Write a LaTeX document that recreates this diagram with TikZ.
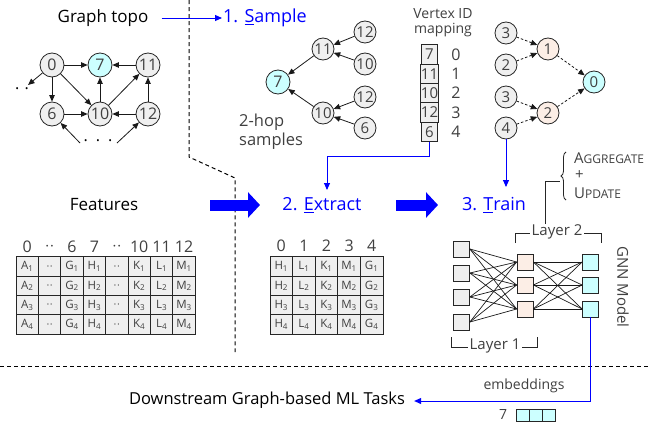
\documentclass[tikz,border=0pt]{standalone}
\usepackage{fontspec}
\setmainfont{Open Sans}
\usetikzlibrary{arrows.meta,decorations.pathreplacing,calc}
\definecolor{gfill}{HTML}{EFEFEF}
\definecolor{cfill}{HTML}{CCFFFF}
\definecolor{pfill}{HTML}{FCEEE6}
\definecolor{pblue}{HTML}{0000FF}
\definecolor{tgray}{HTML}{404040}
\newcommand{\fs}[1]{\fontsize{#1}{#1}\selectfont}
\begin{document}
\begin{tikzpicture}[x=1pt,y=-1pt,
  vtx/.style={circle,draw=black!85,line width=0.8pt,fill=gfill,minimum size=24pt,inner sep=0pt,font=\fs{16},text=tgray},
  svtx/.style={vtx,minimum size=22pt,font=\fs{15}},
  edge/.style={-{Triangle[length=6.5pt,width=5.5pt]},line width=0.8pt,black!90},
  dedge/.style={edge,dash pattern=on 2.5pt off 2pt},
  sep/.style={black,line width=1pt,dash pattern=on 4pt off 3pt},
  barrow/.style={pblue,line width=0.9pt,-{Triangle[length=7pt,width=6pt]}},
  bigarrow/.style={pblue,line width=11pt,-{Triangle[length=12pt,width=25pt]}},
  lbl/.style={font=\fs{17},inner sep=1pt},
  stepl/.style={font=\fs{18},text=pblue,inner sep=1pt},
  cell/.style={draw=black!85,line width=1pt,fill=gfill,minimum height=19.3pt,inner sep=0pt,font=\fs{11.5},text=tgray},
  hdr/.style={font=\fs{16},text=tgray,inner sep=0pt},
  sq/.style={draw=black!85,line width=0.8pt,minimum size=16pt,inner sep=0pt},
  nn/.style={line width=0.7pt,black!90}
]
\useasboundingbox (0,0) rectangle (648,423);

% separators
\draw[sep] (189,0) -- (189,157) -- (235,178) -- (235,352);
\draw[sep] (0,366) -- (648,366);

% Graph topo
\node[lbl] (gt) at (103,18) {Graph topo};
\node[stepl,anchor=west] (smp) at (222,18) {1. \underline{S}ample};
\draw[barrow] ($(gt.east)+(12,0)$) -- (smp.west);

\node[vtx] (g0) at (52,65) {0};
\node[vtx,fill=cfill] (g7) at (100,65) {7};
\node[vtx] (g11) at (148,65) {11};
\node[vtx] (g6) at (52,114) {6};
\node[vtx] (g10) at (100,114) {10};
\node[vtx] (g12) at (148,114) {12};
\node[font=\fs{16},inner sep=0pt] (gdl) at (22,89) {.\,\,.};
\node[font=\fs{16},inner sep=0pt] (gdb) at (98,141) {.\,\,\,.\,\,\,.};
\coordinate (gdla) at (28,85);
\coordinate (gdb1) at (80,143);
\coordinate (gdb2) at (117,143);
\draw[edge] (g0) -- (g7);
\draw[edge] (g11) -- (g7);
\draw[edge] (g0) -- (g6);
\draw[edge] (g0) -- (g10);
\draw[edge] (g10) -- (g7);
\draw[edge] (g10) -- (g11);
\draw[edge] (g6) -- (g10);
\draw[edge] (g12) -- (g10);
\draw[edge] (g12) -- (g11);
\draw[edge] (g0) -- (gdla);
\draw[edge] (gdb1) -- (g6);
\draw[edge] (gdb2) -- (g12);

% Sample tree
\node[vtx,fill=cfill] (s7) at (278,82) {7};
\node[svtx] (s11) at (323,49) {11};
\node[svtx] (s10) at (323,113) {10};
\node[svtx] (sl1) at (365,32) {12};
\node[svtx] (sl2) at (365,64) {10};
\node[svtx] (sl3) at (365,97) {12};
\node[svtx] (sl4) at (365,128) {6};
\draw[edge] (s11) -- (s7);
\draw[edge] (s10) -- (s7);
\draw[edge] (sl1) -- (s11);
\draw[edge] (sl2) -- (s11);
\draw[edge] (sl3) -- (s10);
\draw[edge] (sl4) -- (s10);
\node[font=\fs{16.5},text=tgray,anchor=west,inner sep=0pt] (hop1) at (239,122) {2-hop};
\node[font=\fs{16.5},text=tgray,anchor=west,inner sep=0pt] (hop2) at (239,141) {samples};

% Vertex ID mapping
\node[font=\fs{14},text=tgray,inner sep=0pt] (vim1) at (443,14) {Vertex ID};
\node[font=\fs{14},text=tgray,inner sep=0pt] (vim2) at (443,30) {mapping};
\foreach \v [count=\i from 0] in {7,11,10,12,6} {
  \node[cell,minimum width=16pt,font=\fs{15}] (map\i) at (429.5,{54.6+19.3*\i}) {\v};
  \node[hdr] (mi\i) at (456,{54.6+19.3*\i}) {\i};
}

% Right tree
\node[svtx] (r1) at (506,33) {3};
\node[svtx] (r2) at (506,65) {2};
\node[svtx] (r3) at (506,97) {3};
\node[svtx] (r4) at (506,128) {4};
\node[svtx,fill=pfill] (m1) at (548,49) {1};
\node[svtx,fill=pfill] (m2) at (548,113) {2};
\node[svtx,fill=cfill] (rt) at (594,82) {0};
\draw[dedge] (r1) -- (m1);
\draw[dedge] (r2) -- (m1);
\draw[dedge] (r3) -- (m2);
\draw[dedge] (r4) -- (m2);
\draw[dedge] (m1) -- (rt);
\draw[dedge] (m2) -- (rt);

% Step labels
\node[lbl] (feat) at (104,205) {Features};
\node[stepl] (ext) at (322,205) {2. \underline{E}xtract};
\node[stepl] (trn) at (494,205) {3. \underline{T}rain};
\coordinate (extin) at (327,190);
\coordinate (trnin) at (506,187);
\draw[barrow] (map4.south) -- ++(0,14) -| (extin);
\draw[barrow] (r4.south) -- (trnin);
\coordinate (ba1s) at (210,205); \coordinate (ba1e) at (260,205);
\coordinate (ba2s) at (396,205); \coordinate (ba2e) at (438,205);
\draw[bigarrow] (ba1s) -- (ba1e);
\draw[bigarrow] (ba2s) -- (ba2e);

% Features table
\foreach \h [count=\c from 0] in {0,{$\cdot\cdot$},6,7,{$\cdot\cdot$},10,11,12} {
  \node[hdr] (fh\c) at ({27.2+22.4*\c},247) {\h};
}
\foreach \r in {1,2,3,4} {
  \foreach \L/\c in {A/0,G/2,H/3,K/5,L/6,M/7} {
    \node[cell,minimum width=22.4pt] (f\r-\c) at ({27.2+22.4*\c},{266.6+19.3*(\r-1)}) {\L\textsubscript{\r}};
  }
  \foreach \c in {1,4} {
    \node[cell,minimum width=22.4pt] (f\r-\c) at ({27.2+22.4*\c},{266.6+19.3*(\r-1)}) {$\cdot\cdot$};
  }
}

% Extract table
\foreach \c in {0,...,4} {
  \node[hdr] (eh\c) at ({281.3+22.6*\c},246) {\c};
}
\foreach \r in {1,2,3,4} {
  \foreach \L [count=\c from 0] in {H,L,K,M,G} {
    \node[cell,minimum width=22.6pt] (e\r-\c) at ({281.3+22.6*\c},{266.6+19.3*(\r-1)}) {\L\textsubscript{\r}};
  }
}

% GNN
\foreach \y [count=\i] in {249,273,297,322} {
  \node[sq,fill=gfill] (in\i) at (461.5,\y) {};
}
\foreach \y [count=\i] in {262,285,309} {
  \node[sq,fill=pfill] (hid\i) at (525,\y) {};
  \node[sq,fill=cfill] (out\i) at (590.5,\y) {};
}
\foreach \i in {1,...,4} { \foreach \j in {1,2,3} { \draw[nn] (in\i.east) -- (hid\j.west); } }
\foreach \i in {1,2,3} { \foreach \j in {1,2,3} { \draw[nn] (hid\i.east) -- (out\j.west); } }

\draw[line width=0.8pt,black!85] (515,243) -- (515,233) -- (601,233) -- (601,243);
\node[font=\fs{15},text=tgray,fill=white,inner sep=2pt] (lay2) at (557,232) {Layer 2};
\draw[line width=0.8pt,black!85] (451,337) -- (451,347) -- (537,347) -- (537,337);
\node[font=\fs{15},text=tgray,fill=white,inner sep=2pt] (lay1) at (495,346) {Layer 1};

\coordinate (aglow) at (545,224);
\coordinate (agcor) at (560,181);
\draw[line width=0.8pt,black!85] (aglow) |- (agcor);
\coordinate (brb) at (566,200); \coordinate (brt) at (566,152);
\draw[line width=0.8pt,black!85,decorate,decoration={brace,amplitude=5pt}] (brb) -- (brt);
\node[anchor=west,inner sep=0pt,text=tgray] (agg) at (574,158) {{\fs{15}A}{\fs{12}GGREGATE}};
\node[anchor=west,inner sep=0pt,text=tgray,font=\fs{15}] (plus) at (575,175) {+};
\node[anchor=west,inner sep=0pt,text=tgray] (upd) at (574,193) {{\fs{15}U}{\fs{12}PDATE}};

\node[font=\fs{15},text=tgray,rotate=-90,inner sep=0pt] (gnn) at (623,287) {GNN Model};

% Output
\node[font=\fs{16.5},inner sep=1pt] (ds) at (267,400) {Downstream Graph-based ML Tasks};
\draw[barrow] (out3.south) |- ($(ds.east)+(8,1)$);
\node[font=\fs{14},text=tgray,inner sep=0pt] (emb) at (524,386) {embeddings};
\node[font=\fs{14},text=tgray,inner sep=0pt] (e7) at (503,414) {7};
\foreach \k in {0,1,2} {
  \node[draw=black!85,line width=0.8pt,fill=cfill,minimum width=13pt,minimum height=12pt,inner sep=0pt] (eb\k) at ({522.5+13*\k},415.5) {};
}
\end{tikzpicture}
\end{document}
